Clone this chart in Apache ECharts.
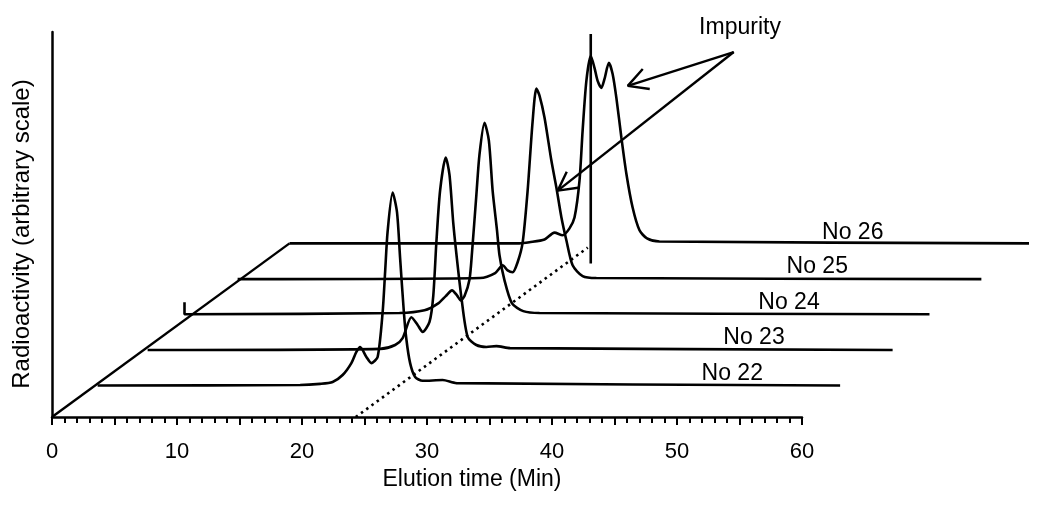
<!DOCTYPE html>
<html><head><meta charset="utf-8">
<script src="https://cdn.jsdelivr.net/npm/echarts@6/dist/echarts.min.js"></script>
<style>html,body{margin:0;padding:0;background:#fff}#c{width:1050px;height:505px}</style>
</head><body><div id="c"></div>
<script>
// ---- data (elution time in min, radioactivity in arbitrary units, each run in its own frame) ----
const runNames = ['No 22', 'No 23', 'No 24', 'No 25', 'No 26'];
const run22 = [[0,0],[16.2,0.1],[17.8,0.4],[18.8,0.9],[19.6,2.7],[20.3,5.8],[20.7,8.7],[21.0,10.0],[21.5,7.4],[21.9,5.8],[22.4,7.4],[22.8,19.0],[23.0,29.5],[23.2,40.0],[23.6,50.1],[23.95,45.0],[24.2,33.0],[24.5,19.0],[24.7,12.0],[25.0,5.8],[25.4,2.2],[26.0,1.2],[27.6,1.4],[28.7,0.6],[59.4,0]];
const run23 = [[0,0],[18.6,0.3],[19.8,1.3],[20.4,3.1],[21.1,8.5],[21.6,6.5],[22.0,4.7],[22.55,7.3],[22.85,14.0],[23.1,28.0],[23.4,41.5],[23.85,50.0],[24.15,45.5],[24.45,33.0],[24.7,25.0],[25.1,13.7],[25.6,3.4],[26.3,1.3],[27.1,0.8],[27.9,1.0],[29.0,0.5],[59.6,0]];
const run24 = [[0,3.1],[0,0],[17.2,0.3],[19.2,1.0],[20.3,2.8],[20.9,4.7],[21.4,6.2],[21.8,4.9],[22.1,3.6],[22.4,4.7],[22.8,9.0],[23.0,16.0],[23.35,31.0],[23.6,41.5],[24.0,49.7],[24.35,45.1],[24.65,32.1],[25.0,21.8],[25.2,15.3],[25.6,8.8],[26.2,2.8],[27.1,0.8],[28.4,0.3],[59.6,0]];
const run25 = [[0,0],[19.4,0.3],[20.6,1.6],[21.2,3.6],[21.6,2.3],[22.0,1.8],[22.4,4.4],[22.8,9.5],[23.2,23.0],[23.6,41.0],[23.9,49.5],[24.15,47.7],[24.55,42.0],[25.1,30.8],[25.5,23.8],[25.9,16.1],[26.3,10.1],[26.8,3.6],[27.6,0.8],[28.7,0.3],[59.5,0]];
const run26 = [[0,0],[18.4,0],[19.2,0.3],[20.4,1.0],[21.2,2.8],[21.85,2.1],[22.4,3.9],[22.8,6.7],[23.2,16.3],[23.45,29.3],[23.75,42.2],[24.1,48.7],[24.4,45.6],[24.65,42.2],[24.95,40.4],[25.2,42.7],[25.55,46.9],[25.85,44.0],[26.15,37.8],[26.55,27.5],[26.95,18.1],[27.45,9.3],[28.0,3.4],[28.6,1.3],[29.6,0.5],[59.45,0]];
const xTickLabels = [0, 10, 20, 30, 40, 50, 60];

// ---- pseudo-3D offsets of each run (display only) ----
const runShift = [3.65, 7.65, 10.6, 14.85, 19.0];
const runBase = [8.2, 17.4, 26.7, 35.8, 45.1];

// ---- annotations (axis coordinates) ----
const labelPos = [[54.46,11.1],[56.2,20.5],[59.0,29.5],[61.26,38.9],[64.1,47.7]];
const markerLine = [[43.1,39.9],[43.1,99.5]];
const dottedLine = [[24.3,0],[42.86,44.0]];
const arrowA = [[54.54,94.8],[46.06,86.0]];
const headA = [[47.26,90.4],[46.06,86.0],[47.82,85.2]];
const arrowB = [[54.54,94.8],[40.46,58.8]];
const headB = [[41.18,63.7],[40.46,58.8],[42.22,59.6]];

const runs = [run22, run23, run24, run25, run26];
const FONT = '"Liberation Sans", Arial, sans-serif';
const black = '#000';

// plot scale: 12.5 px per minute; the drawing grid extends beyond the 60-min axis
const X_LEFT = 52, PX_PER_MIN = 12.5, EXT_MAX = 78;
const series = [];
function seg(data, opts) {
  return Object.assign({ type: 'line', xAxisIndex: 1, yAxisIndex: 1, showSymbol: false, data: data,
    lineStyle: { color: black, width: 2.4 }, silent: true, z: 4 }, opts || {});
}
runs.forEach((r, i) => {
  series.push(seg(r.map(p => [p[0] + runShift[i], p[1] + runBase[i]]),
    { name: runNames[i], smooth: 0.25, lineStyle: { color: black, width: 2.6 }, z: 3 }));
});
series.push(seg([[0,0],[runShift[4], runBase[4]]]));
series.push(seg(markerLine, { lineStyle: { color: black, width: 2.6 } }));
series.push(seg(dottedLine, { lineStyle: { color: black, width: 2.6, type: [2.5, 4] } }));
series.push(seg(arrowA));
series.push(seg(headA));
series.push(seg(arrowB));
series.push(seg(headB));
const labelStyle = { show: true, position: [0, 0], align: 'center', verticalAlign: 'middle',
  color: '#000', opacity: 1, textBorderWidth: 0, fontSize: 23, fontFamily: FONT };
series.push({
  type: 'scatter', xAxisIndex: 1, yAxisIndex: 1, symbolSize: 1, silent: true, z: 5,
  itemStyle: { color: '#fff', opacity: 0 },
  data: labelPos.map((p, i) => ({ value: p, label: Object.assign({}, labelStyle, { formatter: runNames[i] }) })),
  label: labelStyle
});

const chart = echarts.init(document.getElementById('c'), null, { renderer: 'canvas' });
chart.setOption({
  animation: false,
  backgroundColor: '#fff',
  grid: [
    { left: X_LEFT, width: 60 * PX_PER_MIN, top: 32, bottom: 88, containLabel: false },
    { left: X_LEFT, width: EXT_MAX * PX_PER_MIN, top: 32, bottom: 88, containLabel: false }
  ],
  xAxis: [{
    type: 'value', gridIndex: 0, min: 0, max: 60, interval: 5,
    axisLine: { show: true, onZero: false, lineStyle: { color: black, width: 2.5 } },
    axisTick: { show: true, inside: false, length: 8, lineStyle: { color: black, width: 2 } },
    minorTick: { show: true, splitNumber: 5, length: 6, lineStyle: { color: black, width: 2 } },
    splitLine: { show: false },
    axisLabel: {
      color: black, fontSize: 22, fontFamily: FONT, margin: 24,
      formatter: v => (xTickLabels.indexOf(v) >= 0 ? String(v) : '')
    }
  }, {
    type: 'value', gridIndex: 1, min: 0, max: EXT_MAX, show: false
  }],
  yAxis: [{
    type: 'value', gridIndex: 0, min: 0, max: 100,
    axisLine: { show: true, onZero: false, lineStyle: { color: black, width: 2.5 } },
    axisTick: { show: false }, axisLabel: { show: false }, splitLine: { show: false }
  }, {
    type: 'value', gridIndex: 1, min: 0, max: 100, show: false
  }],
  graphic: [
    { type: 'text', position: [472, 480], style: { text: 'Elution time (Min)', fill: black, font: '23px ' + FONT, textAlign: 'center', textVerticalAlign: 'middle' } },
    { type: 'text', position: [22, 234], rotation: Math.PI / 2, style: { text: 'Radioactivity (arbitrary scale)', fill: black, font: '24px ' + FONT, textAlign: 'center', textVerticalAlign: 'middle' } },
    { type: 'text', position: [740, 28], style: { text: 'Impurity', fill: black, font: '23px ' + FONT, textAlign: 'center', textVerticalAlign: 'middle' } }
  ],
  series: series
});
</script></body></html>
